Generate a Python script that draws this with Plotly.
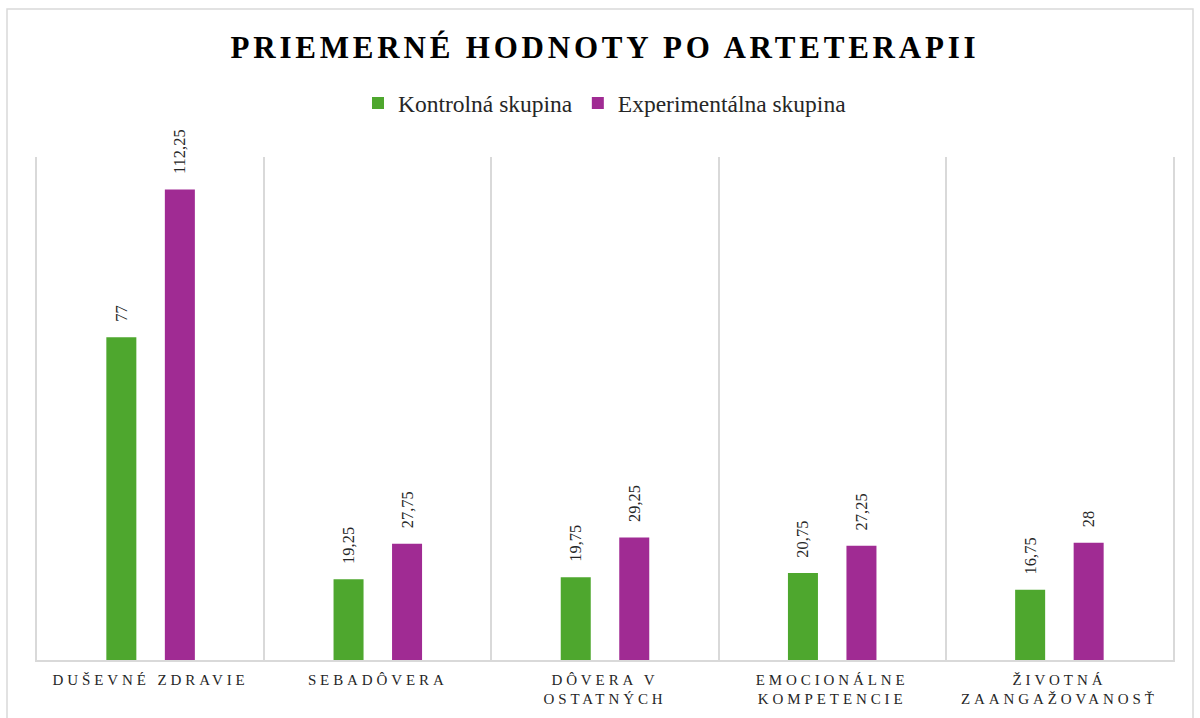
import plotly.graph_objects as go

categories = ["DUŠEVNÉ ZDRAVIE", "SEBADÔVERA", "DÔVERA V<br>OSTATNÝCH",
              "EMOCIONÁLNE<br>KOMPETENCIE", "ŽIVOTNÁ<br>ZAANGAŽOVANOSŤ"]
kontrolna = [77, 19.25, 19.75, 20.75, 16.75]
experimentalna = [112.25, 27.75, 29.25, 27.25, 28]
series_names = ["Kontrolná skupina", "Experimentálna skupina"]
title_text = "PRIEMERNÉ HODNOTY PO ARTETERAPII"

SERIF = "Liberation Serif, Times New Roman, serif"

def fmt(v):
    return f"{v:g}".replace(".", ",")

fig = go.Figure()
for name, vals, col in [(series_names[0], kontrolna, "#4EA72E"),
                        (series_names[1], experimentalna, "#A02B93")]:
    fig.add_trace(go.Bar(
        x=categories, y=vals, name=name,
        marker=dict(color=col, line=dict(width=0)),
        text=["\u00a0\u00a0\u00a0" + fmt(v) for v in vals],
        textposition="outside", textangle=-90, constraintext="none",
        textfont=dict(family=SERIF, size=16.5, color="#262626"),
        cliponaxis=False,
    ))

fig.update_layout(
    width=1200, height=718,
    margin=dict(l=37, r=27, t=157, b=58),
    paper_bgcolor="white", plot_bgcolor="white",
    barmode="group", bargap=0.485, bargroupgap=0.487,
    title=dict(text="<b>" + title_text + "</b>", xref="paper", x=0.5, xanchor="center",
               y=0.935, yanchor="middle",
               font=dict(family=SERIF, size=31, color="#000000")),
    legend=dict(orientation="h", x=0.5, xanchor="center", y=1.107, yanchor="middle",
                font=dict(family=SERIF, size=23.5, color="#262626"),
                itemwidth=30, traceorder="normal"),
    showlegend=True,
)
fig.update_xaxes(type="category", tickson="boundaries", showgrid=True,
                 gridcolor="#d9d9d9", gridwidth=1.5, showline=True,
                 linecolor="#d9d9d9", linewidth=1.5, ticks="",
                 ticklabelstandoff=5,
                 tickfont=dict(family=SERIF, size=15, color="#262626"),
                 fixedrange=True)
fig.update_yaxes(range=[0, 120], showticklabels=False, showgrid=False, zeroline=False,
                 showline=True, mirror=True, linecolor="#d9d9d9", linewidth=1.5,
                 ticks="", fixedrange=True)

fig.add_shape(type="rect", xref="paper", yref="paper",
              x0=-0.0264, x1=1.0176, y0=-0.2, y1=1.294,
              line=dict(color="#d9d9d9", width=1.5), fillcolor="rgba(0,0,0,0)", layer="below")

post = """
document.body.style.margin='0';
document.querySelectorAll('.gtitle').forEach(function(e){e.style.letterSpacing='3.8px';});
document.querySelectorAll('.xtick text').forEach(function(e){e.style.letterSpacing='3.9px';});
"""
fig.write_html("out.html", post_script=post, config={"displayModeBar": False})
